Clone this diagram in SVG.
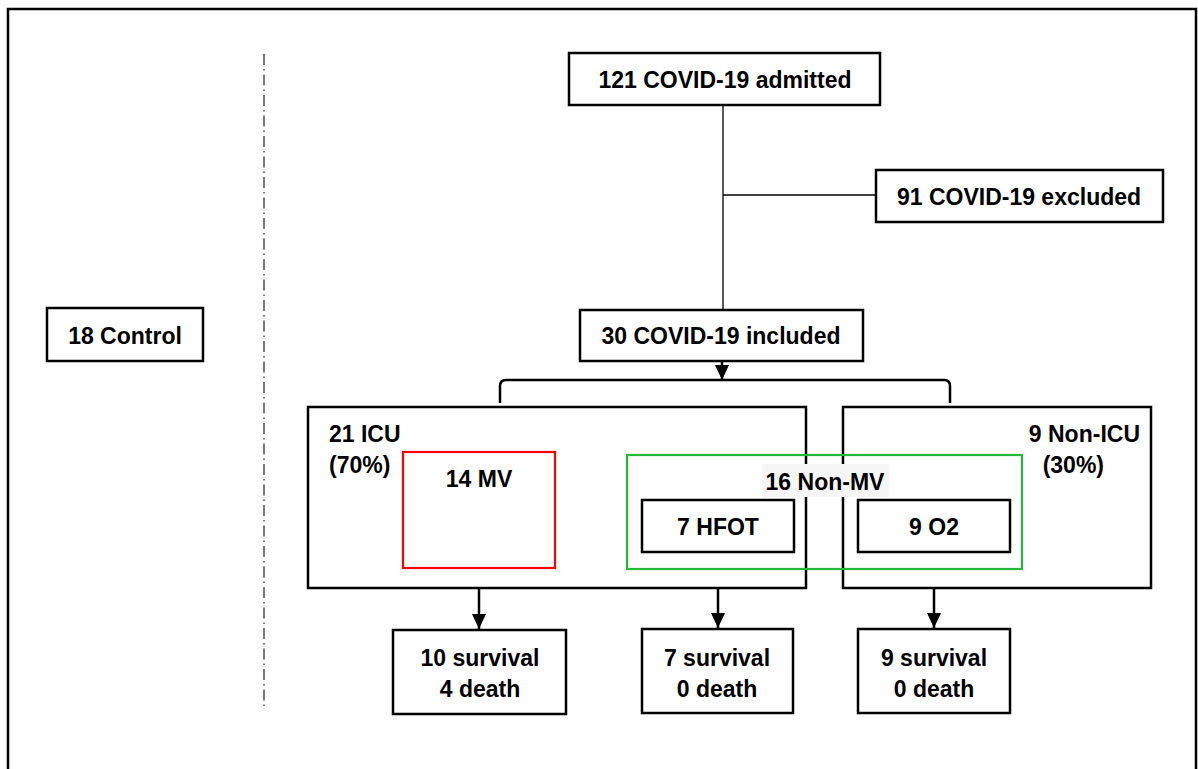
<svg xmlns="http://www.w3.org/2000/svg" width="1198" height="769" viewBox="0 0 1198 769">
<defs>
<style>
.box{fill:#fff;stroke:#000;stroke-width:2.5}
.t{font-family:"Liberation Sans",Arial,sans-serif;font-weight:bold;font-size:23px;fill:#000}
.c{text-anchor:middle}
.thin{stroke:#000;stroke-width:1.3;fill:none}
.con{stroke:#000;stroke-width:2.5;fill:none}
</style>
<marker id="ah" viewBox="0 0 15 14" refX="15" refY="7" markerWidth="15" markerHeight="14" markerUnits="userSpaceOnUse" orient="auto">
<path d="M0,0 L15,7 L0,14 Z" fill="#000"/>
</marker>
</defs>
<rect width="1198" height="769" fill="#fff"/>
<rect x="8" y="9" width="1188" height="800" fill="none" stroke="#000" stroke-width="2.5"/>
<line x1="264" y1="54" x2="264" y2="710" stroke="#333" stroke-width="1.3" stroke-dasharray="11 4 1.5 4"/>

<g id="connectors">
<line class="thin" x1="723" y1="105" x2="723" y2="310"/>
<line class="thin" x1="723" y1="195" x2="876" y2="195"/>
<line class="con" x1="722" y1="361" x2="722" y2="380" marker-end="url(#ah)"/>
<path class="con" d="M500,403 V386 Q500,380 506,380 H944 Q950,380 950,386 V403"/>
<line class="con" x1="479" y1="569" x2="479" y2="629" marker-end="url(#ah)"/>
<line class="con" x1="718" y1="552" x2="718" y2="628" marker-end="url(#ah)"/>
<line class="con" x1="934" y1="552" x2="934" y2="628" marker-end="url(#ah)"/>
</g>

<g id="control">
<rect class="box" x="47" y="308" width="156" height="53"/>
<text class="t c" x="125" y="344">18 Control</text>
</g>
<g id="admitted">
<rect class="box" x="569" y="53" width="311" height="52"/>
<text class="t c" x="725" y="88">121 COVID-19 admitted</text>
</g>
<g id="excluded">
<rect class="box" x="876" y="170" width="287" height="52"/>
<text class="t c" x="1019" y="205">91 COVID-19 excluded</text>
</g>
<g id="included">
<rect class="box" x="580" y="310" width="283" height="51"/>
<text class="t c" x="721" y="344">30 COVID-19 included</text>
</g>
<g id="icu">
<rect class="box" x="308" y="407" width="498" height="181"/>
<text class="t" x="329" y="442">21 ICU</text>
<text class="t" x="329" y="473">(70%)</text>
</g>
<g id="nonicu">
<rect class="box" x="843" y="407" width="308" height="181"/>
<text class="t" x="1140" y="442" text-anchor="end">9 Non-ICU</text>
<text class="t" x="1104" y="473" text-anchor="end">(30%)</text>
</g>
<g id="mv">
<rect x="403" y="452" width="152" height="116" fill="none" stroke="#ff0000" stroke-width="2.2"/>
<text class="t c" x="479" y="487">14 MV</text>
</g>
<g id="nonmv">
<rect x="627" y="455" width="395" height="114" fill="none" stroke="#22b83a" stroke-width="2.2"/>
<rect x="762" y="464" width="127" height="33" fill="#f6f6f6"/>
<text class="t c" x="825" y="490">16 Non-MV</text>
</g>
<g id="hfot">
<rect class="box" x="642" y="500" width="152" height="52"/>
<text class="t c" x="718" y="535">7 HFOT</text>
</g>
<g id="o2">
<rect class="box" x="858" y="500" width="152" height="52"/>
<text class="t c" x="934" y="535">9 O2</text>
</g>
<g id="out-mv">
<rect class="box" x="393" y="630" width="173" height="84"/>
<text class="t c" x="480" y="666">10 survival</text>
<text class="t c" x="480" y="697">4 death</text>
</g>
<g id="out-hfot">
<rect class="box" x="642" y="629" width="151" height="84"/>
<text class="t c" x="717" y="666">7 survival</text>
<text class="t c" x="717" y="697">0 death</text>
</g>
<g id="out-o2">
<rect class="box" x="858" y="629" width="152" height="84"/>
<text class="t c" x="934" y="666">9 survival</text>
<text class="t c" x="934" y="697">0 death</text>
</g>
</svg>
